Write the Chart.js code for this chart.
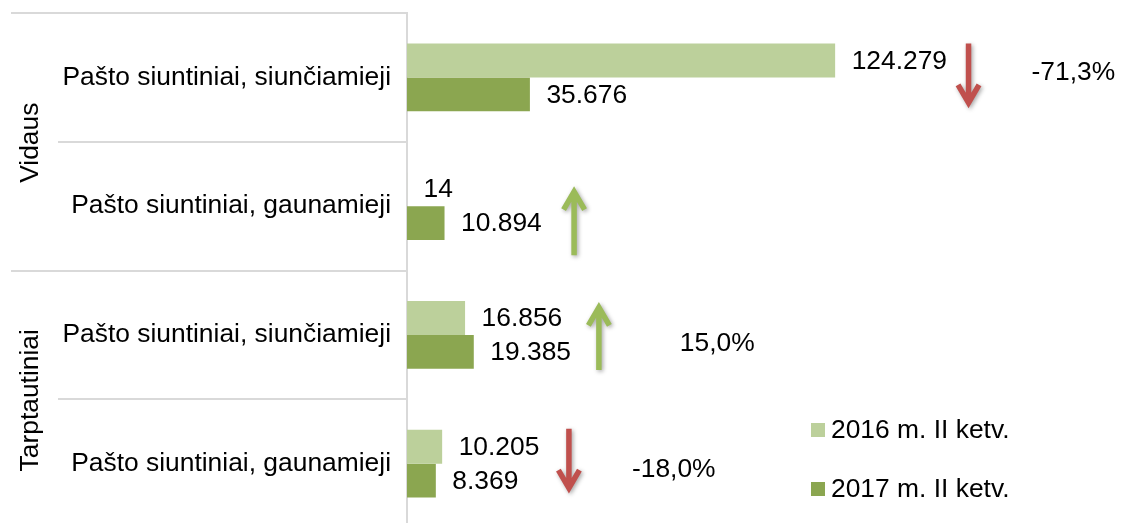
<!DOCTYPE html>
<html><head><meta charset="utf-8">
<style>
html,body{margin:0;padding:0;background:#fff;overflow:hidden;width:1127px;height:523px;}
#wrap{position:relative;width:1127px;height:528px;}
</style>
<script src="https://cdn.jsdelivr.net/npm/chart.js@4.4.1/dist/chart.umd.min.js"></script>
</head><body><div id="wrap"><canvas id="c"></canvas></div>
<script>
// ---- data ----
const categories = ["Pašto siuntiniai, siunčiamieji", "Pašto siuntiniai, gaunamieji", "Pašto siuntiniai, siunčiamieji", "Pašto siuntiniai, gaunamieji"];
const groups = ["Vidaus", "Tarptautiniai"];
const groupSizes = [2, 2];
const seriesNames = ["2016 m. II ketv.", "2017 m. II ketv."];
const values2016 = [124279, 14, 16856, 10205];
const values2017 = [35676, 10894, 19385, 8369];
const changeLabels = ["-71,3%", "", "15,0%", "-18,0%"];
const changeDirection = ["down", "up", "up", "down"];

// ---- annotation placement (x in data units, y in px from category centre) ----
const arrowX = [163000, 48500, 55700, 47000];
const arrowSpan = [[-34, 31], [-20, 49], [-33, 35], [-35, 30]];
const pctX = [181300, 0, 79200, 65300];
const pctDy = [-5, 0, 9, 6];

const FONT = "'Liberation Sans', Arial, sans-serif";
const FS = 26.4;
const colors = ['#bcd09b', '#8ba650'];
const fmt = v => String(v).replace(/\B(?=(\d{3})+(?!\d))/g, '.');

function drawArrow(ctx, x, y1, y2, dirDown, color) {
  const yTail = dirDown ? y1 : y2;
  const yTip = dirDown ? y2 : y1;
  const d = dirDown ? 1 : -1;
  const w = 5.5;
  const vy = yTip - d * 5.5;
  ctx.save();
  ctx.strokeStyle = color;
  ctx.lineWidth = w;
  ctx.lineCap = 'butt';
  ctx.lineJoin = 'miter';
  ctx.shadowColor = 'rgba(0,0,0,0.35)';
  ctx.shadowBlur = 4;
  ctx.shadowOffsetX = 1.5;
  ctx.shadowOffsetY = 1.5;
  ctx.beginPath();
  ctx.moveTo(x, yTail);
  ctx.lineTo(x, vy - d * 1);
  ctx.moveTo(x - 10.5, vy - d * 18);
  ctx.lineTo(x, vy);
  ctx.lineTo(x + 10.5, vy - d * 18);
  ctx.stroke();
  ctx.restore();
}

const decor = {
  id: 'decor',
  beforeDatasetsDraw(chart) {
    const ctx = chart.ctx, ys = chart.scales.y, area = chart.chartArea;
    const n = categories.length;
    const step = (ys.bottom - ys.top) / n;
    ctx.save();
    ctx.strokeStyle = '#d9d9d9';
    ctx.lineWidth = 2;
    const groupStarts = new Set();
    let acc = 0; groupStarts.add(0);
    groupSizes.forEach(s => { acc += s; groupStarts.add(acc); });
    for (let i = 0; i <= n; i++) {
      const y = Math.round(ys.getPixelForValue(i) - step / 2);
      const x0 = groupStarts.has(i) ? 11 : 58;
      ctx.beginPath();
      ctx.moveTo(x0, y);
      ctx.lineTo(area.left, y);
      ctx.stroke();
    }
    ctx.beginPath();
    ctx.moveTo(area.left, area.top - 1);
    ctx.lineTo(area.left, area.bottom);
    ctx.stroke();
    ctx.fillStyle = '#000';
    ctx.font = FS + 'px ' + FONT;
    ctx.textAlign = 'center';
    ctx.textBaseline = 'alphabetic';
    let start = 0;
    groups.forEach((g, gi) => {
      const yTop = ys.getPixelForValue(start) - step / 2;
      const yBot = ys.getPixelForValue(start + groupSizes[gi] - 1) + step / 2;
      ctx.save();
      ctx.translate(37.5, (yTop + yBot) / 2 + 1);
      ctx.rotate(-Math.PI / 2);
      ctx.fillText(g, 0, 0);
      ctx.restore();
      start += groupSizes[gi];
    });
    ctx.restore();
  },
  afterDatasetsDraw(chart) {
    const ctx = chart.ctx, xs = chart.scales.x, ys = chart.scales.y;
    ctx.save();
    ctx.fillStyle = '#000';
    ctx.font = FS + 'px ' + FONT;
    ctx.textAlign = 'left';
    ctx.textBaseline = 'middle';
    chart.data.datasets.forEach((ds, di) => {
      const meta = chart.getDatasetMeta(di);
      meta.data.forEach((el, i) => {
        ctx.fillText(fmt(ds.data[i]), el.x + 16.5, el.y + 1);
      });
    });
    categories.forEach((c, i) => {
      const cy = ys.getPixelForValue(i);
      const ax = xs.getPixelForValue(arrowX[i]);
      const down = changeDirection[i] === 'down';
      drawArrow(ctx, ax, cy + arrowSpan[i][0], cy + arrowSpan[i][1], down, down ? '#c0504d' : '#9bbb59');
      if (changeLabels[i]) {
        ctx.fillStyle = '#000';
        ctx.fillText(changeLabels[i], xs.getPixelForValue(pctX[i]), cy + pctDy[i]);
      }
    });
    const legY = [430, 489];
    chart.data.datasets.forEach((ds, di) => {
      ctx.fillStyle = ds.backgroundColor;
      ctx.fillRect(811, legY[di] - 7, 14, 14);
      ctx.fillStyle = '#000';
      ctx.fillText(ds.label, 831, legY[di] + 1);
    });
    ctx.restore();
  }
};

new Chart(document.getElementById('c'), {
  type: 'bar',
  data: {
    labels: categories,
    datasets: [
      { label: seriesNames[0], data: values2016, backgroundColor: colors[0], borderWidth: 0, categoryPercentage: 0.528, barPercentage: 1 },
      { label: seriesNames[1], data: values2017, backgroundColor: colors[1], borderWidth: 0, categoryPercentage: 0.528, barPercentage: 1 }
    ]
  },
  options: {
    indexAxis: 'y',
    responsive: true,
    maintainAspectRatio: false,
    animation: false,
    layout: { padding: { top: 13, right: 31, bottom: 0, left: 0 } },
    plugins: { legend: { display: false }, tooltip: { enabled: false } },
    scales: {
      x: { display: false, min: 0, max: 200000 },
      y: {
        position: 'left',
        grid: { display: false, drawTicks: false },
        border: { display: false },
        ticks: { color: '#000', font: { family: FONT, size: FS }, padding: 16, autoSkip: false },
        afterFit(s) { s.width = 407; s.paddingTop = 0; s.paddingBottom = 0; }
      }
    }
  },
  plugins: [decor]
});
</script>
</body></html>
